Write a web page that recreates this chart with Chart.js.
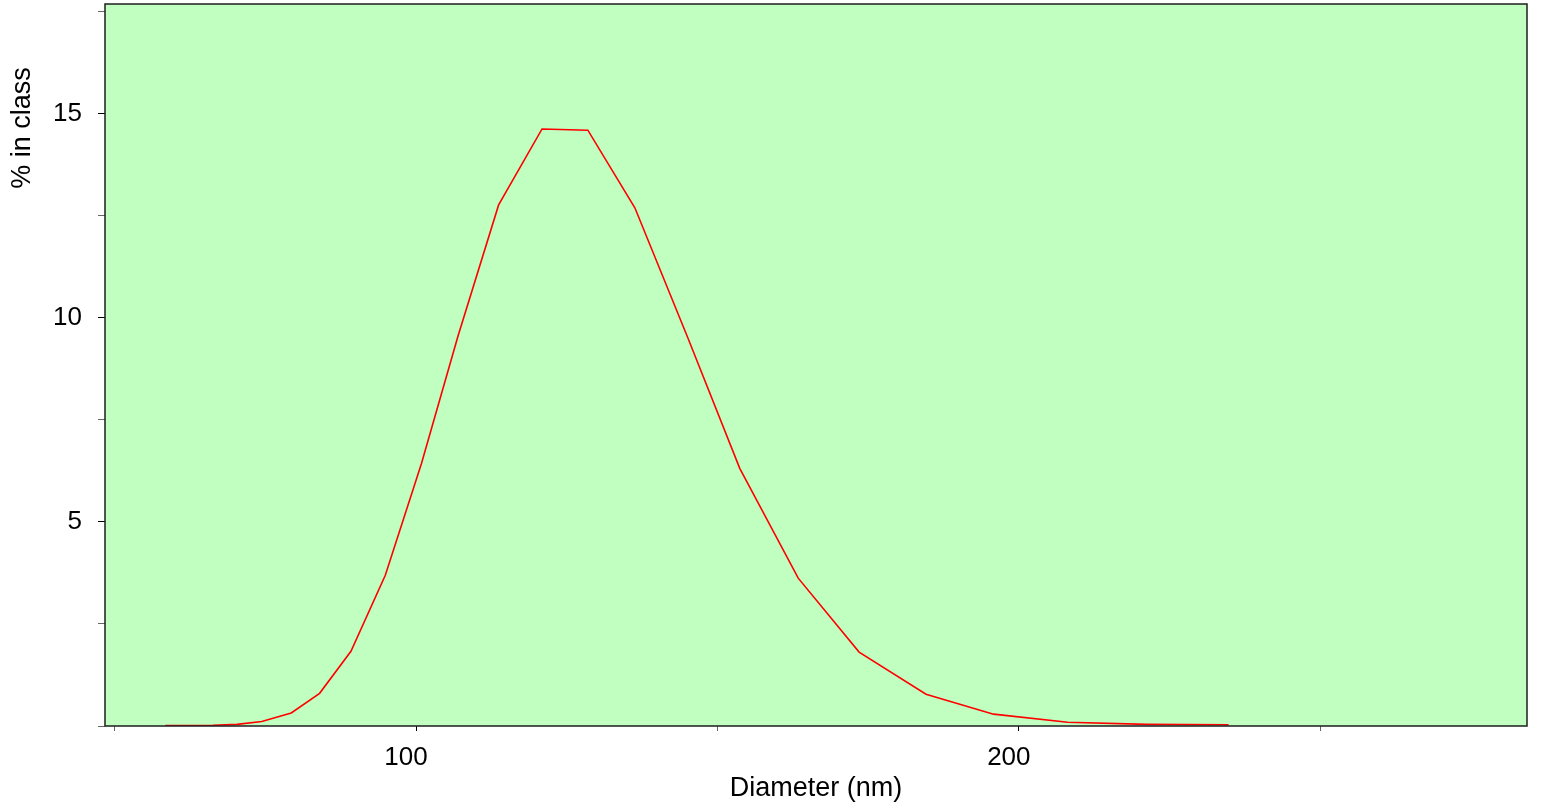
<!DOCTYPE html>
<html>
<head>
<meta charset="utf-8">
<script src="https://cdn.jsdelivr.net/npm/chart.js@4/dist/chart.umd.min.js"></script>
<style>
  html, body { margin: 0; padding: 0; background: #fff; }
  #wrap { width: 1542px; height: 809px; position: relative; }
</style>
</head>
<body>
<div id="wrap"><canvas id="sizeChart"></canvas></div>
<script>
// Size distribution
const diameters = [58.4, 66.3, 70.3, 74.4, 79.3, 84.0, 89.2, 94.9, 100.9, 107.0, 113.7, 120.9,
                   128.5, 136.3, 145.1, 153.7, 163.4, 173.5, 184.6, 195.8, 208.1, 221.2, 234.8];
const percentInClass = [0.01, 0.02, 0.04, 0.11, 0.32, 0.80, 1.83, 3.69, 6.43, 9.57, 12.76, 14.62,
                        14.59, 12.69, 9.50, 6.31, 3.62, 1.81, 0.78, 0.29, 0.09, 0.04, 0.03];
const xLabelTicks = [100, 200];
const yLabelTicks = [5, 10, 15];

const FONT = "'Liberation Sans', Arial, sans-serif";
Chart.defaults.font.family = FONT;
Chart.defaults.color = '#000';

// green plot panel, frame and the rotated y title up top
const panelPlugin = {
  id: 'panel',
  beforeDraw(chart) {
    const { ctx, chartArea: a } = chart;
    ctx.save();
    ctx.fillStyle = '#c0ffc0';
    ctx.fillRect(a.left, a.top, a.right - a.left, a.bottom - a.top);
    ctx.restore();
  },
  afterDraw(chart) {
    const { ctx, chartArea: a } = chart;
    ctx.save();
    ctx.strokeStyle = '#1e1e1e';
    ctx.lineWidth = 1.5;
    ctx.strokeRect(a.left, a.top, a.right - a.left, a.bottom - a.top);

    ctx.translate(29.5, 128);
    ctx.rotate(-Math.PI / 2);
    ctx.font = `27px ${FONT}`;
    ctx.fillStyle = '#000';
    ctx.textAlign = 'center';
    ctx.textBaseline = 'alphabetic';
    ctx.fillText('% in class', 0, 0);
    ctx.restore();
  }
};

const ctx = document.getElementById('sizeChart').getContext('2d');
new Chart(ctx, {
  type: 'line',
  data: {
    datasets: [{
      data: diameters.map((d, i) => ({ x: d, y: percentInClass[i] })),
      borderColor: '#ff0000',
      borderWidth: 1.6,
      pointRadius: 0,
      tension: 0,
      fill: false
    }]
  },
  options: {
    responsive: true,
    maintainAspectRatio: false,
    animation: false,
    layout: { padding: { top: 4, right: 15, left: 0, bottom: 0 } },
    plugins: { legend: { display: false }, tooltip: { enabled: false } },
    scales: {
      x: {
        type: 'linear',
        min: 48.4,
        max: 284.3,
        border: { display: false },
        grid: {
          drawOnChartArea: false,
          tickLength: 5,
          tickColor: c => xLabelTicks.includes(c.tick && c.tick.value) ? '#000' : '#666'
        },
        ticks: {
          stepSize: 50,
          includeBounds: false,
          autoSkip: false,
          maxRotation: 0,
          padding: 11,
          labelOffset: -10,
          font: { size: 26 },
          callback: v => xLabelTicks.includes(v) ? String(v) : ''
        },
        title: {
          display: true,
          text: 'Diameter (nm)',
          font: { size: 27 },
          padding: { top: 0, bottom: 4 }
        },
        afterFit(scale) {
          scale.height = 83;
          scale.paddingLeft = 0;
          scale.paddingRight = 0;
        }
      },
      y: {
        min: 0,
        max: 17.68,
        border: { display: false },
        grid: {
          drawOnChartArea: false,
          tickLength: 7,
          tickColor: c => yLabelTicks.includes(c.tick && c.tick.value) ? '#000' : '#666'
        },
        ticks: {
          stepSize: 2.5,
          includeBounds: false,
          autoSkip: false,
          padding: 16,
          font: { size: 26 },
          callback: v => yLabelTicks.includes(v) ? String(v) : ''
        },
        afterFit(scale) {
          scale.width = 105;
          scale.paddingTop = 0;
          scale.paddingBottom = 0;
        }
      }
    }
  },
  plugins: [panelPlugin]
});
</script>
</body>
</html>
